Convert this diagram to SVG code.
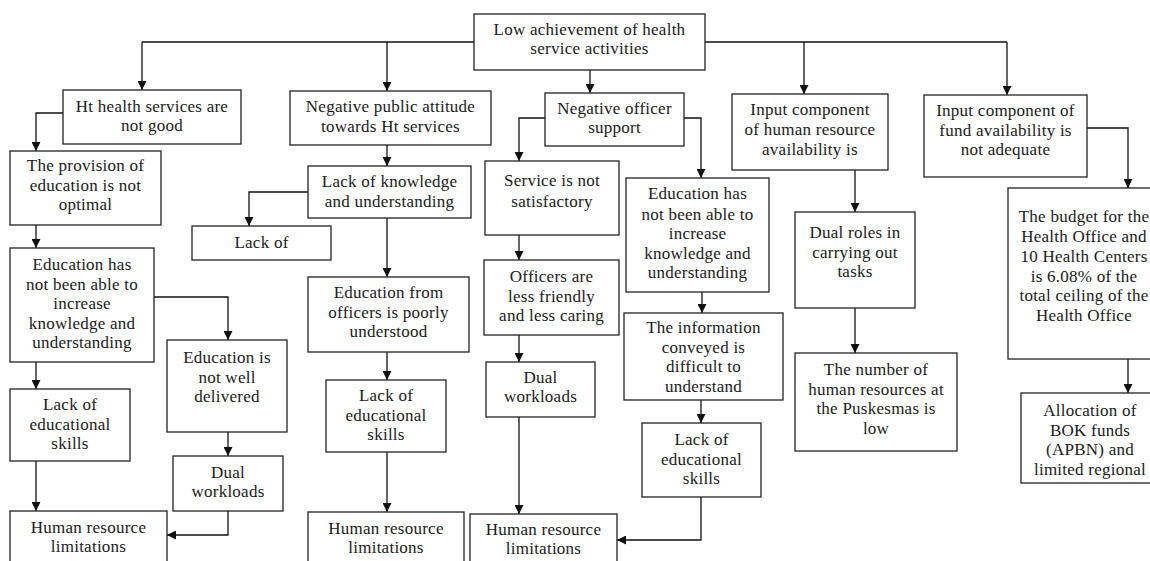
<svg xmlns="http://www.w3.org/2000/svg" width="1150" height="561" viewBox="0 0 1150 561">
<style>
.b{fill:#fff;stroke:#222;stroke-width:1.3}
.t{font-family:"Liberation Serif","Times New Roman",serif;font-size:17px;letter-spacing:0.25px;fill:#1a1a1a;text-anchor:middle}
.c{fill:none;stroke:#111;stroke-width:1.3}
.a{marker-end:url(#ah)}
</style>
<defs>
<marker id="ah" viewBox="0 0 10 10" refX="10" refY="5" markerWidth="9" markerHeight="9" markerUnits="userSpaceOnUse" orient="auto"><path d="M0,0 L10,5 L0,10 z" fill="#111"/></marker>
</defs>
<rect width="1150" height="561" fill="#fff"/>
<g id="connectors">
<path class="c" d="M142,42 H474 M705,42 H1007"/>
<path class="c a" d="M142,42 V90"/>
<path class="c a" d="M387,42 V91"/>
<path class="c a" d="M590,70 V93"/>
<path class="c a" d="M804,42 V94"/>
<path class="c a" d="M1007,42 V95"/>
<path class="c a" d="M63,113 H36 V151"/>
<path class="c a" d="M36,225 V248"/>
<path class="c a" d="M154,297 H228 V340"/>
<path class="c a" d="M228,432 V456"/>
<path class="c a" d="M36,362 V389"/>
<path class="c a" d="M36,461 V511"/>
<path class="c a" d="M228,511 V535 H167"/>
<path class="c a" d="M387,145 V166"/>
<path class="c a" d="M308,192 H249 V226"/>
<path class="c a" d="M387,218 V277"/>
<path class="c a" d="M387,352 V380"/>
<path class="c a" d="M387,452 V512"/>
<path class="c a" d="M545,118 H519 V161"/>
<path class="c a" d="M519,235 V260"/>
<path class="c a" d="M519,335 V362"/>
<path class="c a" d="M519,417 V514"/>
<path class="c a" d="M684,118 H701 V178"/>
<path class="c a" d="M702,292 V313"/>
<path class="c a" d="M701,400 V423"/>
<path class="c a" d="M701,497 V540 H617"/>
<path class="c a" d="M855,170 V212"/>
<path class="c a" d="M855,308 V353"/>
<path class="c a" d="M1087,128 H1128 V188"/>
<path class="c a" d="M1128,359 V393"/>
</g>
<g id="root"><rect class="b" x="474" y="14" width="231" height="56"/><text class="t" x="589.5" y="35">Low achievement of health</text><text class="t" x="589.5" y="54">service activities</text></g>
<g id="n_ht"><rect class="b" x="63" y="90" width="178" height="54"/><text class="t" x="152" y="112">Ht health services are</text><text class="t" x="152" y="131">not good</text></g>
<g id="n_prov"><rect class="b" x="10" y="151" width="151" height="74"/><text class="t" x="85.5" y="171">The provision of</text><text class="t" x="85.5" y="190.5">education is not</text><text class="t" x="85.5" y="210">optimal</text></g>
<g id="n_edu1"><rect class="b" x="10" y="248" width="144" height="114"/><text class="t" x="82" y="270">Education has</text><text class="t" x="82" y="289.5">not been able to</text><text class="t" x="82" y="309">increase</text><text class="t" x="82" y="328.5">knowledge and</text><text class="t" x="82" y="348">understanding</text></g>
<g id="n_notwell"><rect class="b" x="167" y="340" width="120" height="92"/><text class="t" x="227" y="363">Education is</text><text class="t" x="227" y="382.5">not well</text><text class="t" x="227" y="402">delivered</text></g>
<g id="n_dual1"><rect class="b" x="173" y="456" width="110" height="55"/><text class="t" x="228" y="478">Dual</text><text class="t" x="228" y="497">workloads</text></g>
<g id="n_lack1"><rect class="b" x="10" y="389" width="120" height="72"/><text class="t" x="70" y="410">Lack of</text><text class="t" x="70" y="429.5">educational</text><text class="t" x="70" y="449">skills</text></g>
<g id="n_hr1"><rect class="b" x="10" y="511" width="157" height="60"/><text class="t" x="88.5" y="533">Human resource</text><text class="t" x="88.5" y="552">limitations</text></g>
<g id="n_neg"><rect class="b" x="290" y="91" width="201" height="54"/><text class="t" x="390.5" y="112">Negative public attitude</text><text class="t" x="390.5" y="131.5">towards Ht services</text></g>
<g id="n_lackk"><rect class="b" x="308" y="166" width="163" height="52"/><text class="t" x="389.5" y="187">Lack of knowledge</text><text class="t" x="389.5" y="206.5">and understanding</text></g>
<g id="n_lackof"><rect class="b" x="192" y="226" width="139" height="34"/><text class="t" x="261.5" y="248">Lack of</text></g>
<g id="n_edufrom"><rect class="b" x="308" y="277" width="161" height="75"/><text class="t" x="388.5" y="298">Education from</text><text class="t" x="388.5" y="318">officers is poorly</text><text class="t" x="388.5" y="337">understood</text></g>
<g id="n_lack2"><rect class="b" x="326" y="380" width="120" height="72"/><text class="t" x="386" y="401">Lack of</text><text class="t" x="386" y="420.5">educational</text><text class="t" x="386" y="440">skills</text></g>
<g id="n_hr2"><rect class="b" x="308" y="512" width="156" height="60"/><text class="t" x="386" y="534">Human resource</text><text class="t" x="386" y="553">limitations</text></g>
<g id="n_negoff"><rect class="b" x="545" y="93" width="139" height="53"/><text class="t" x="614.5" y="114">Negative officer</text><text class="t" x="614.5" y="133">support</text></g>
<g id="n_serv"><rect class="b" x="485" y="161" width="134" height="74"/><text class="t" x="552" y="186">Service is not</text><text class="t" x="552" y="207">satisfactory</text></g>
<g id="n_officers"><rect class="b" x="484" y="260" width="135" height="75"/><text class="t" x="551.5" y="282">Officers are</text><text class="t" x="551.5" y="301.5">less friendly</text><text class="t" x="551.5" y="321">and less caring</text></g>
<g id="n_dual2"><rect class="b" x="486" y="362" width="109" height="55"/><text class="t" x="540.5" y="383">Dual</text><text class="t" x="540.5" y="402">workloads</text></g>
<g id="n_hr3"><rect class="b" x="470" y="514" width="147" height="60"/><text class="t" x="543.5" y="535">Human resource</text><text class="t" x="543.5" y="554">limitations</text></g>
<g id="n_edu2"><rect class="b" x="626" y="178" width="143" height="114"/><text class="t" x="697.5" y="199">Education has</text><text class="t" x="697.5" y="219.5">not been able to</text><text class="t" x="697.5" y="239">increase</text><text class="t" x="697.5" y="258.5">knowledge and</text><text class="t" x="697.5" y="278">understanding</text></g>
<g id="n_info"><rect class="b" x="624" y="313" width="159" height="87"/><text class="t" x="703.5" y="333">The information</text><text class="t" x="703.5" y="352.5">conveyed is</text><text class="t" x="703.5" y="372">difficult to</text><text class="t" x="703.5" y="391.5">understand</text></g>
<g id="n_lack3"><rect class="b" x="642" y="423" width="119" height="74"/><text class="t" x="701.5" y="445">Lack of</text><text class="t" x="701.5" y="464.5">educational</text><text class="t" x="701.5" y="484">skills</text></g>
<g id="n_inputhr"><rect class="b" x="732" y="94" width="156" height="76"/><text class="t" x="810" y="115">Input component</text><text class="t" x="810" y="135">of human resource</text><text class="t" x="810" y="155">availability is</text></g>
<g id="n_dualroles"><rect class="b" x="795" y="212" width="120" height="96"/><text class="t" x="855" y="238">Dual roles in</text><text class="t" x="855" y="257.5">carrying out</text><text class="t" x="855" y="277">tasks</text></g>
<g id="n_number"><rect class="b" x="795" y="353" width="162" height="98"/><text class="t" x="876" y="375">The number of</text><text class="t" x="876" y="394.5">human resources at</text><text class="t" x="876" y="414">the Puskesmas is</text><text class="t" x="876" y="433.5">low</text></g>
<g id="n_inputfund"><rect class="b" x="924" y="95" width="163" height="82"/><text class="t" x="1005.5" y="116">Input component of</text><text class="t" x="1005.5" y="135.5">fund availability is</text><text class="t" x="1005.5" y="155">not adequate</text></g>
<g id="n_budget"><rect class="b" x="1008" y="188" width="160" height="171"/><text class="t" x="1084" y="222">The budget for the</text><text class="t" x="1084" y="242">Health Office and</text><text class="t" x="1084" y="261.5">10 Health Centers</text><text class="t" x="1084" y="281.5">is 6.08% of the</text><text class="t" x="1084" y="301">total ceiling of the</text><text class="t" x="1084" y="321">Health Office</text></g>
<g id="n_alloc"><rect class="b" x="1021" y="393" width="150" height="90"/><text class="t" x="1090" y="416">Allocation of</text><text class="t" x="1090" y="435.5">BOK funds</text><text class="t" x="1090" y="455">(APBN) and</text><text class="t" x="1090" y="474.5">limited regional</text></g>
</svg>
